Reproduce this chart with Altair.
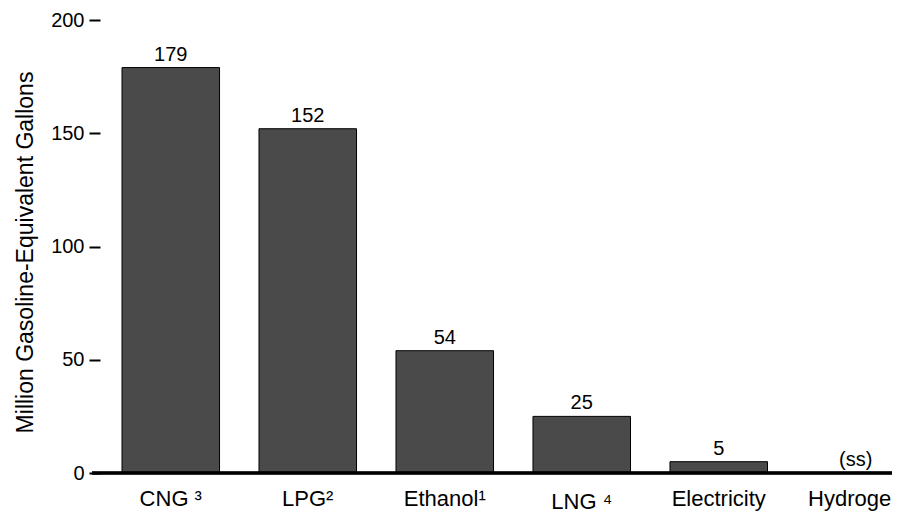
import altair as alt
import pandas as pd

categories = ["CNG ³", "LPG²", "Ethanol¹", "LNG ⁴", "Electricity", "Hydrogen"]
values = [179, 152, 54, 25, 5, 0]
value_labels = ["179", "152", "54", "25", "5", "(ss)"]
y_ticks = [0, 50, 100, 150, 200]

df = pd.DataFrame({"category": categories, "value": values, "label": value_labels})

FONT = "Liberation Sans"
x_enc = alt.X("category:N", sort=None, axis=None,
              scale=alt.Scale(range=[22, 804.5], paddingInner=0.288, paddingOuter=0))
y_scale = alt.Scale(domain=[0, 200], nice=False)

base = alt.Chart(df)

bars = base.mark_bar(fill="#4a4a4a", stroke="black", strokeWidth=1).encode(
    x=x_enc,
    y=alt.Y("value:Q", scale=y_scale,
            axis=alt.Axis(title="Million Gasoline-Equivalent Gallons", values=y_ticks,
                          grid=False, domain=False, tickSize=11, tickWidth=2,
                          tickColor="black", labelFontSize=20, labelFont=FONT,
                          labelColor="black", labelPadding=5, titleFont=FONT,
                          titleFontSize=23, titleFontWeight="normal", titleColor="black",
                          titlePadding=13, titleY=232)),
)

value_text = base.mark_text(font=FONT, fontSize=20, color="black", baseline="alphabetic", dy=-7).encode(
    x=x_enc,
    y=alt.Y("value:Q", scale=y_scale),
    text="label:N",
)

baseline_rule = base.mark_rule(color="black", strokeWidth=2.5).encode(
    y=alt.datum(0), x=alt.value(-8), x2=alt.value(800)
)

xlab_main = base.transform_filter(alt.datum.category != "LNG ⁴").mark_text(
    font=FONT, fontSize=22, color="black", baseline="alphabetic"
).encode(x=x_enc, y=alt.value(486), text="category:N")

xlab_lng = base.transform_filter(alt.datum.category == "LNG ⁴").mark_text(
    font=FONT, fontSize=22, color="black", baseline="alphabetic"
).encode(x=x_enc, y=alt.value(489), text="category:N")

chart = alt.layer(bars, value_text, baseline_rule, xlab_main, xlab_lng).properties(
    width=792, height=453,
    autosize=alt.AutoSizeParams(type="none"),
    padding={"left": 92, "top": 12, "right": 0, "bottom": 40},
).configure_view(stroke=None)

chart.save("out.html", embed_options={"renderer": "svg", "actions": False})
